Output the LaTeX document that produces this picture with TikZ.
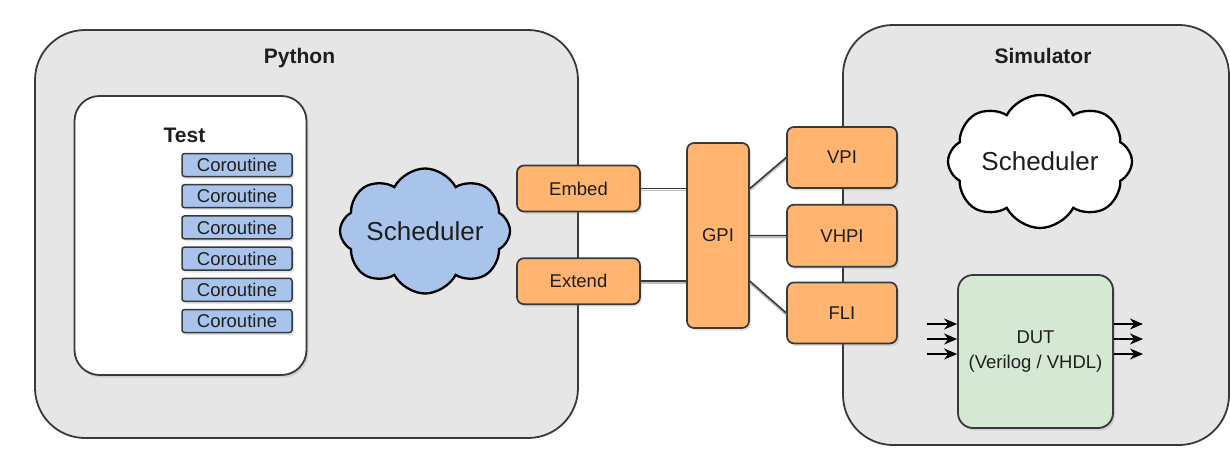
\documentclass[tikz,border=0pt]{standalone}
\usepackage{fontspec}
\setmainfont{Liberation Sans}
\usepackage{tikz}
\usetikzlibrary{arrows.meta, positioning, shapes.symbols, shadows}
\definecolor{boxgrey}{RGB}{230, 230, 230}
\definecolor{edge}{RGB}{54, 57, 61}
\definecolor{apiorange}{RGB}{255, 181, 112}
\definecolor{coblue}{RGB}{169, 196, 235}
\definecolor{dutgreen}{RGB}{213, 232, 212}
\definecolor{txt}{RGB}{30, 30, 30}
\newcommand{\fsz}[1]{\fontsize{#1}{#1}\selectfont}

\begin{document}
\begin{tikzpicture}[x=1pt, y=-1pt,
    soft/.style={drop shadow={shadow xshift=2pt, shadow yshift=-2.5pt, opacity=0.22}},
    container/.style={draw=edge, fill=boxgrey, line width=1.8pt, rounded corners=50pt},
    title/.style={anchor=base, font=\bfseries\fsz{21}, text=txt},
    cor/.style={draw=edge, fill=coblue, line width=1.5pt, rounded corners=2.5pt, minimum width=110pt, minimum height=23pt, inner sep=0pt, font=\fsz{18.5}, text=txt, soft},
    api/.style={draw=edge, fill=apiorange, line width=1.7pt, rounded corners=7pt, inner sep=0pt, font=\fsz{18.5}, text=txt, soft},
    sched/.style={cloud, cloud puffs=8, cloud puff arc=125, cloud ignores aspect, draw=black, line width=2.3pt, inner sep=0pt, font=\fsz{26}, text=txt},
    link/.style={draw=edge, line width=1.6pt, preaction={draw=black!25, line width=1.6pt, transform canvas={yshift=-2pt}}},
    pin/.style={-{Stealth[length=13pt, width=11pt, inset=4pt]}, line width=1.5pt, black}]
  % page
  \fill[white] (0,0) rectangle (1230,463);
  \useasboundingbox (0,0) rectangle (1230,463);

  % the two worlds
  \node[container, minimum width=543pt, minimum height=408pt] (python) at (306.5,234) {};
  \node[container, minimum width=386pt, minimum height=420pt] (sim) at (1036,235) {};
  \node[title] (pytitle) at (299.5,63) {Python};
  \node[title] (simtitle) at (1043,63) {Simulator};

  % test with its coroutines
  \node[draw=edge, fill=white, line width=1.8pt, rounded corners=25pt, minimum width=232pt, minimum height=279pt, soft] (test) at (190.5,235.5) {};
  \node[title] (testtitle) at (184.5,142) {Test};
  \node[cor] (co1) at (237,165) {Coroutine};
  \node[cor, below=6.7pt of co1] (co2) {Coroutine};
  \node[cor, below=6.7pt of co2] (co3) {Coroutine};
  \node[cor, below=6.7pt of co3] (co4) {Coroutine};
  \node[cor, below=6.7pt of co4] (co5) {Coroutine};
  \node[cor, below=6.7pt of co5] (co6) {Coroutine};

  % schedulers
  \node[sched, fill=coblue, minimum width=170pt, minimum height=125pt] (pysched) at (425,231) {Scheduler};
  \node[sched, fill=white, minimum width=184pt, minimum height=133pt] (simsched) at (1040,161.5) {Scheduler};

  % interfaces
  \node[api, minimum width=123pt, minimum height=46pt] (embed) at (578.5,188.5) {Embed};
  \node[api, minimum width=123pt, minimum height=46pt, below=45pt of embed] (extend) {Extend};
  \node[api, minimum width=62pt, minimum height=185pt] (gpi) at (718,235.5) {GPI};
  \node[api, minimum width=110pt, minimum height=61pt] (vpi) at (842,157.5) {VPI};
  \node[api, minimum width=110pt, minimum height=62pt, below=15pt of vpi] (vhpi) {VHPI};
  \node[api, minimum width=110pt, minimum height=61pt, below=14pt of vhpi] (fli) {FLI};

  \draw[link] (embed) -- (embed -| gpi.west);
  \draw[link] (extend) -- (extend -| gpi.west);
  \draw[link] (gpi.east |- embed) -- (vpi.west);
  \draw[link] (gpi) -- (vhpi);
  \draw[link] (gpi.east |- extend) -- (fli.west);

  % design under test
  \node[draw=edge, fill=dutgreen, line width=1.8pt, rounded corners=15pt, minimum width=155pt, minimum height=153pt, align=center, font=\fontsize{18.5}{25}\selectfont, text=txt, soft] (dut) at (1035.5,351.5) {DUT\\(Verilog / VHDL)};
  \coordinate (in1) at (927,324);
  \coordinate (in2) at (927,339);
  \coordinate (in3) at (927,354);
  \coordinate (out1) at (1143,324);
  \coordinate (out2) at (1143,339);
  \coordinate (out3) at (1143,354);
  \draw[pin] (in1) -- (in1 -| dut.west);
  \draw[pin] (in2) -- (in2 -| dut.west);
  \draw[pin] (in3) -- (in3 -| dut.west);
  \draw[pin] (out1 -| dut.east) -- (out1);
  \draw[pin] (out2 -| dut.east) -- (out2);
  \draw[pin] (out3 -| dut.east) -- (out3);
\end{tikzpicture}
\end{document}
